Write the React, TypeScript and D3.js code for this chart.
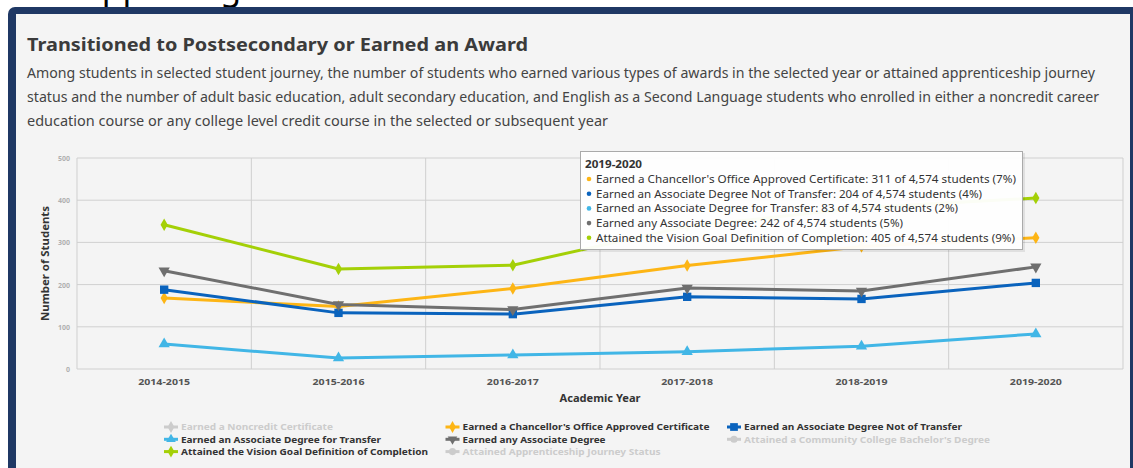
import React from 'react';
import * as d3 from 'd3';

const years = ['2014-2015', '2015-2016', '2016-2017', '2017-2018', '2018-2019', '2019-2020'];
const chancellorCert = [168, 148, 191, 245, 290, 311];
const assocNotTransfer = [188, 133, 130, 171, 166, 204];
const assocTransfer = [59, 26, 33, 41, 54, 83];
const assocAny = [233, 153, 141, 192, 185, 242];
const visionGoal = [342, 237, 246, 338, 382, 405];
const yTicks = [0, 100, 200, 300, 400, 500];

const series = [
  { name: "Earned a Chancellor's Office Approved Certificate", values: chancellorCert, color: '#fdb515', marker: 'diamond' },
  { name: 'Earned an Associate Degree Not of Transfer', values: assocNotTransfer, color: '#0a63bd', marker: 'square' },
  { name: 'Earned an Associate Degree for Transfer', values: assocTransfer, color: '#41b6e6', marker: 'triangle' },
  { name: 'Earned any Associate Degree', values: assocAny, color: '#6f6f6f', marker: 'triangle-down' },
  { name: 'Attained the Vision Goal Definition of Completion', values: visionGoal, color: '#a4d007', marker: 'diamond' },
];

// legend in highcharts order, hidden series greyed out
const legendItems = [
  { name: 'Earned a Noncredit Certificate', color: '#cccccc', marker: 'diamond', hidden: true },
  { name: "Earned a Chancellor's Office Approved Certificate", color: '#fdb515', marker: 'diamond', hidden: false },
  { name: 'Earned an Associate Degree Not of Transfer', color: '#0a63bd', marker: 'square', hidden: false },
  { name: 'Earned an Associate Degree for Transfer', color: '#41b6e6', marker: 'triangle', hidden: false },
  { name: 'Earned any Associate Degree', color: '#6f6f6f', marker: 'triangle-down', hidden: false },
  { name: "Attained a Community College Bachelor's Degree", color: '#cccccc', marker: 'circle', hidden: true },
  { name: 'Attained the Vision Goal Definition of Completion', color: '#a4d007', marker: 'diamond', hidden: false },
  { name: 'Attained Apprenticeship Journey Status', color: '#cccccc', marker: 'circle', hidden: true },
];
// measured text widths from the screenshot, so the fallback font lines up
const legendWidths = [152, 247, 218, 200, 143, 246, 247, 198];

const tooltipYear = '2019-2020';
const totalStudents = 4574;
const tooltipPct = ['7%', '4%', '2%', '5%', '9%'];
const tooltipWidths = [420, 386, 362, 307, 419];

const description = [
  'Among students in selected student journey, the number of students who earned various types of awards in the selected year or attained apprenticeship journey',
  'status and the number of adult basic education, adult secondary education, and English as a Second Language students who enrolled in either a noncredit career',
  'education course or any college level credit course in the selected or subsequent year',
];
const descWidths = [1068, 1072, 581];

const FONT = "'Noto Sans', 'Lato', sans-serif";

const markerPath = (type: string, size: number) => {
  const sym =
    type === 'square' ? d3.symbolSquare :
    type === 'triangle' ? d3.symbolTriangle :
    type === 'circle' ? d3.symbolCircle :
    type === 'triangle-down' ? d3.symbolTriangle :
    d3.symbolDiamond;
  return d3.symbol(sym, size)() as string;
};

const Marker = ({ type, x, y, color, size }: { type: string; x: number; y: number; color: string; size: number }) => (
  <path
    d={markerPath(type, size)}
    transform={`translate(${x},${y})${type === 'triangle-down' ? ' rotate(180)' : ''}`}
    fill={color}
  />
);

const App = () => {
  const left = 77, right = 1123, top = 158, bottom = 369;
  const x = d3.scalePoint<string>().domain(years).range([left, right]).padding(0.5);
  const band = (right - left) / years.length;
  const y = d3.scaleLinear().domain([0, 500]).range([bottom, top]);
  const line = d3.line<number>().x((_, i) => x(years[i]) as number).y(d => y(d));
  const last = years.length - 1;
  const fit = { lengthAdjust: 'spacingAndGlyphs' as const };

  return (
    <svg width={1133} height={468} style={{ position: 'absolute', left: 0, top: 0, fontFamily: FONT }}>
      <rect x={0} y={0} width={1133} height={468} fill="#ffffff" />
      <text x={62} y={0} fontSize={34} fill="#000">Supporting</text>
      {/* frame */}
      <rect x={8} y={7} width={1140} height={480} rx={7} fill="#1f3864" />
      <rect x={16} y={14} width={1114} height={470} fill="#f4f4f4" />

      <text x={27} y={51} fontSize={18} fontWeight={700} fill="#3b3b3b" textLength={501} {...fit}>Transitioned to Postsecondary or Earned an Award</text>
      {description.map((t, i) => (
        <text key={i} x={27} y={78 + i * 24} fontSize={13.5} fill="#444" textLength={descWidths[i]} {...fit}>{t}</text>
      ))}

      {/* grid */}
      {yTicks.map(t => (
        <g key={t}>
          <line x1={left} x2={right} y1={y(t)} y2={y(t)} stroke="#d0d0d0" strokeWidth={1} />
          <text x={left - 7} y={y(t) + 3} fontSize={7} fontWeight={700} fill="#b0b0b0" textAnchor="end">{t}</text>
        </g>
      ))}
      {d3.range(years.length + 1).map(i => (
        <line key={i} x1={left + i * band} x2={left + i * band} y1={top} y2={bottom} stroke="#cfcfcf" strokeWidth={1} />
      ))}
      {years.map(yr => (
        <text key={yr} x={x(yr)} y={385} fontSize={9} fontWeight={700} fill="#555" textAnchor="middle" textLength={52} {...fit}>{yr}</text>
      ))}
      <text x={(left + right) / 2} y={402} fontSize={10.5} fontWeight={700} fill="#333" textAnchor="middle" textLength={81} {...fit}>Academic Year</text>
      <text transform={`translate(49,${(top + bottom) / 2}) rotate(-90)`} fontSize={10.5} fontWeight={700} fill="#333" textAnchor="middle" textLength={115} {...fit}>Number of Students</text>

      {/* series */}
      {series.map(s => (
        <g key={s.name}>
          <path d={line(s.values) as string} fill="none" stroke={s.color} strokeWidth={3} />
          {s.values.map((v, i) => (
            <Marker key={i} type={s.marker} x={x(years[i]) as number} y={y(v)} color={s.color} size={s.marker === 'square' ? 70 : s.marker === 'diamond' ? 45 : 55} />
          ))}
        </g>
      ))}

      {/* tooltip */}
      <g>
        <rect x={582} y={153} width={443} height={99} fill="#000" opacity={0.08} />
        <rect x={580.5} y={151.5} width={442} height={98} fill="#ffffff" fillOpacity={0.96} stroke="#aaaaaa" />
        <text x={585} y={168} fontSize={11} fontWeight={700} fill="#333" textLength={57} {...fit}>{tooltipYear}</text>
        {series.map((s, i) => (
          <g key={s.name}>
            <circle cx={589} cy={179 + i * 14.7} r={2.3} fill={s.color} />
            <text x={596} y={183 + i * 14.7} fontSize={11} fill="#333" textLength={tooltipWidths[i]} {...fit}>
              {`${s.name}: ${s.values[last]} of ${d3.format(',')(totalStudents)} students (${tooltipPct[i]})`}
            </text>
          </g>
        ))}
      </g>

      {/* legend */}
      {legendItems.map((it, i) => {
        const col = i % 3, row = Math.floor(i / 3);
        const lx = 164 + col * 281.5, ly = 427 + row * 12.3;
        const c = it.hidden ? '#cccccc' : it.color;
        return (
          <g key={it.name}>
            <line x1={lx} x2={lx + 14} y1={ly} y2={ly} stroke={c} strokeWidth={3} />
            <Marker type={it.marker} x={lx + 7} y={ly} color={c} size={it.marker === 'square' ? 60 : 40} />
            <text x={lx + 17} y={ly + 3.3} fontSize={9.5} fontWeight={700} fill={it.hidden ? '#cccccc' : '#333'} textLength={legendWidths[i]} {...fit}>{it.name}</text>
          </g>
        );
      })}
    </svg>
  );
};

export default App;
